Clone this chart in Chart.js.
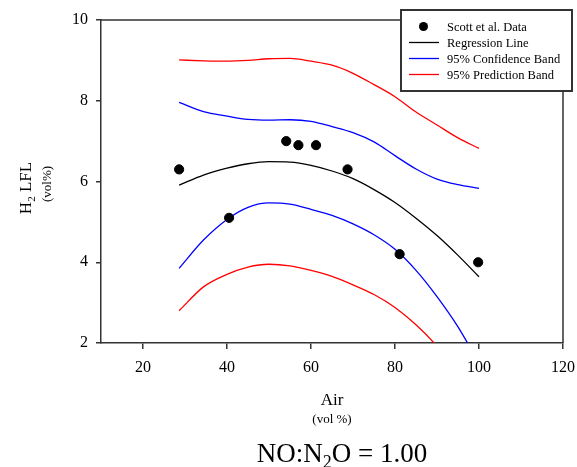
<!DOCTYPE html>
<html>
<head>
<meta charset="utf-8">
<script src="https://cdn.jsdelivr.net/npm/chart.js@4.4.1/dist/chart.umd.min.js"></script>
<style>
    body { margin: 0; background: #fff; }
    #chart { display: block; }
</style>
</head>
<body>
<canvas id="chart" width="577" height="467"></canvas>
<script>
// Scott et al. measured points
const airData = [28.6, 40.5, 54.1, 57.0, 61.2, 68.7, 81.1, 99.8];
const lflData = [6.3, 5.1, 7.0, 6.9, 6.9, 6.3, 4.2, 4.0];

// fitted curves
const curveAir = [28.6, 34.4, 40, 45, 50, 55, 60, 65, 70, 75, 80, 85, 90, 95, 100];
const regressionLine = [5.91, 6.16, 6.33, 6.44, 6.49, 6.48, 6.40, 6.26, 6.07, 5.80, 5.48, 5.09, 4.66, 4.17, 3.64];
const confUpper = [7.96, 7.73, 7.62, 7.54, 7.52, 7.53, 7.49, 7.36, 7.21, 6.98, 6.64, 6.31, 6.06, 5.92, 5.83];
const confLower = [3.85, 4.55, 5.06, 5.36, 5.47, 5.44, 5.31, 5.16, 4.95, 4.68, 4.32, 3.80, 3.15, 2.40, 1.50];
const predUpper = [9.01, 8.99, 8.98, 9.00, 9.04, 9.05, 8.98, 8.88, 8.68, 8.40, 8.10, 7.72, 7.40, 7.08, 6.82];
const predLower = [2.80, 3.39, 3.70, 3.88, 3.95, 3.91, 3.80, 3.65, 3.44, 3.20, 2.88, 2.45, 1.92, 1.26, 0.48];

const xTicks = [20, 40, 60, 80, 100, 120];
const yTicks = [2, 4, 6, 8, 10];

const legendLabels = ['Scott et al. Data', 'Regression Line', '95% Confidence Band', '95% Prediction Band'];

const serif = "'Liberation Serif', 'Times New Roman', serif";
const axisColor = '#333';

function toPoints(xs, ys) {
    return xs.map((x, i) => ({ x: x, y: ys[i] }));
}

function curve(ys, color) {
    return {
        data: toPoints(curveAir, ys),
        showLine: true,
        borderColor: color,
        borderWidth: 1.3,
        pointRadius: 0,
        cubicInterpolationMode: 'monotone',
        fill: false
    };
}

// draws text made of pieces, some of them subscripts
function drawParts(ctx, parts, size, cx, cy) {
    const subSize = Math.round(size * 0.65);
    let total = 0;
    parts.forEach(p => {
        ctx.font = (p.sub ? subSize : size) + 'px ' + serif;
        p.w = ctx.measureText(p.t).width;
        total += p.w;
    });
    let x = cx - total / 2;
    ctx.textAlign = 'left';
    ctx.textBaseline = 'alphabetic';
    parts.forEach(p => {
        ctx.font = (p.sub ? subSize : size) + 'px ' + serif;
        ctx.fillText(p.t, x, cy + (p.sub ? size * 0.22 : 0));
        x += p.w;
    });
}

const decorPlugin = {
    id: 'decor',
    afterDraw(chart) {
        const ctx = chart.ctx;
        const area = chart.chartArea;
        ctx.save();

        // top and right frame lines
        ctx.strokeStyle = axisColor;
        ctx.lineWidth = 1.5;
        ctx.beginPath();
        ctx.moveTo(area.left, area.top);
        ctx.lineTo(area.right, area.top);
        ctx.lineTo(area.right, area.bottom);
        ctx.stroke();

        ctx.fillStyle = '#000';
        const cx = (area.left + area.right) / 2;

        // x axis title
        drawParts(ctx, [{ t: 'Air' }], 17, cx, 405);
        drawParts(ctx, [{ t: '(vol %)' }], 13, cx, 423);

        // caption under the chart
        drawParts(ctx, [{ t: 'NO:N' }, { t: '2', sub: true }, { t: 'O = 1.00' }], 27, 342, 462);

        // y axis title, rotated
        ctx.save();
        ctx.translate(31, 188);
        ctx.rotate(-Math.PI / 2);
        drawParts(ctx, [{ t: 'H' }, { t: '2', sub: true }, { t: ' LFL' }], 17, 0, 0);
        ctx.restore();
        ctx.save();
        ctx.translate(51, 184);
        ctx.rotate(-Math.PI / 2);
        drawParts(ctx, [{ t: '(vol%)' }], 13, 0, 0);
        ctx.restore();

        // legend box
        const bx = 401, by = 10, bw = 171, bh = 81;
        ctx.fillStyle = '#fff';
        ctx.fillRect(bx, by, bw, bh);
        ctx.strokeStyle = axisColor;
        ctx.lineWidth = 2;
        ctx.strokeRect(bx, by, bw, bh);

        const rowY = [26.5, 42.5, 58.5, 74.5];
        const colors = ['#000', '#000', '#0000ff', '#ff0000'];
        ctx.font = '12.5px ' + serif;
        ctx.textAlign = 'left';
        ctx.textBaseline = 'middle';
        legendLabels.forEach((label, i) => {
            if (i === 0) {
                ctx.fillStyle = '#000';
                ctx.beginPath();
                ctx.arc(423.5, rowY[i], 4.5, 0, Math.PI * 2);
                ctx.fill();
            } else {
                ctx.strokeStyle = colors[i];
                ctx.lineWidth = 1.3;
                ctx.beginPath();
                ctx.moveTo(409, rowY[i]);
                ctx.lineTo(439, rowY[i]);
                ctx.stroke();
            }
            ctx.fillStyle = '#000';
            ctx.fillText(label, 447, rowY[i] + 1);
        });

        ctx.restore();
    }
};

const ctx = document.getElementById('chart').getContext('2d');

new Chart(ctx, {
    type: 'scatter',
    data: {
        datasets: [
            {
                data: toPoints(airData, lflData),
                backgroundColor: '#000',
                borderColor: '#000',
                pointRadius: 4.6,
                pointHoverRadius: 4.6,
                showLine: false
            },
            curve(regressionLine, '#000'),
            curve(confUpper, '#0000ff'),
            curve(confLower, '#0000ff'),
            curve(predUpper, '#ff0000'),
            curve(predLower, '#ff0000')
        ]
    },
    options: {
        responsive: false,
        animation: false,
        layout: {
            padding: { left: 0, top: 20, right: 14, bottom: 0 }
        },
        plugins: {
            legend: { display: false },
            tooltip: { enabled: false }
        },
        scales: {
            x: {
                type: 'linear',
                min: 10,
                max: 120,
                afterBuildTicks: scale => { scale.ticks = xTicks.map(v => ({ value: v })); },
                afterFit: scale => {
                    scale.height = 124;
                    scale.paddingRight = 0;
                    scale.paddingLeft = 0;
                },
                grid: { drawOnChartArea: false, drawTicks: true, tickLength: 6, color: axisColor, lineWidth: 1.5 },
                border: { display: true, color: axisColor, width: 1.5 },
                ticks: { color: '#000', font: { family: serif, size: 16 }, padding: 9, maxRotation: 0 }
            },
            y: {
                type: 'linear',
                min: 2,
                max: 10,
                afterBuildTicks: scale => { scale.ticks = yTicks.map(v => ({ value: v })); },
                afterFit: scale => {
                    scale.width = 101;
                    scale.paddingTop = 0;
                    scale.paddingBottom = 0;
                },
                grid: { drawOnChartArea: false, drawTicks: true, tickLength: 5, color: axisColor, lineWidth: 1.5 },
                border: { display: true, color: axisColor, width: 1.5 },
                ticks: { color: '#000', font: { family: serif, size: 16 }, padding: 8 }
            }
        }
    },
    plugins: [decorPlugin]
});
</script>
</body>
</html>
